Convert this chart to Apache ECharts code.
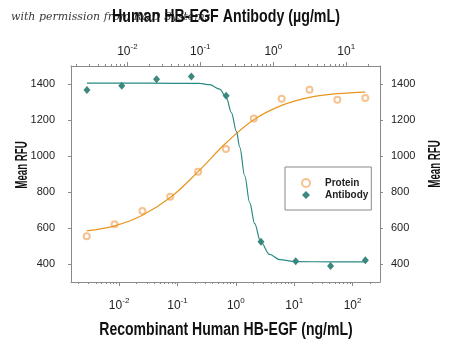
<!DOCTYPE html>
<html>
<head>
<meta charset="utf-8">
<script src="https://cdn.jsdelivr.net/npm/echarts@6/dist/echarts.min.js"></script>
<style>
  html, body { margin: 0; padding: 0; background: #ffffff; }
  #chart { width: 450px; height: 347px; }
</style>
</head>
<body>
<div id="chart"></div>
<script>
// Recombinant HB-EGF dose response (bottom axis, ng/mL)
const proteinConc = [0.00279, 0.00837, 0.0251, 0.0753, 0.226, 0.678, 2.03, 6.10, 18.3, 54.9, 165];
const proteinRfu  = [554, 621, 694, 773, 913, 1039, 1208, 1318, 1368, 1312, 1322];

// Fitted response curve for the protein
const proteinFitConc = [0.00279, 0.00837, 0.0251, 0.0753, 0.226, 0.678, 2.03, 6.10, 18.3, 54.9, 165];
const proteinFitRfu  = [584, 612, 671, 769, 913, 1072, 1201, 1281, 1326, 1346, 1355];

// Neutralizing antibody titration (top axis, µg/mL)
const antibodyConc = [0.00279, 0.00837, 0.0251, 0.0753, 0.226, 0.678, 2.03, 6.10, 18.3];
const antibodyRfu  = [1367, 1390, 1427, 1442, 1335, 523, 415, 389, 421];

// Fitted inhibition curve for the antibody
const antibodyFitConc = [0.00279, 0.0203, 0.0982, 0.1345, 0.1844, 0.228, 0.267, 0.313, 0.347, 0.406, 0.475, 0.556, 0.672, 0.891, 1.22, 2.02, 6.1, 18.8];
const antibodyFitRfu  = [1405, 1405, 1403, 1396, 1372, 1322, 1240, 1135, 1049, 890, 741, 624, 523, 453, 424, 413, 412, 412];

// Axis ticks and titles
const bottomDecades = [-2, -1, 0, 1, 2];
const topDecades = [-2, -1, 0, 1];
const rfuTicks = [400, 600, 800, 1000, 1200, 1400];
const bottomTitle = 'Recombinant Human HB-EGF (ng/mL)';
const topTitle = 'Human HB-EGF Antibody (\u00b5g/mL)';
const rfuTitle = 'Mean RFU';
const creditText = 'with permission from R&D Systems';

const bottomRange = [-2.824, 2.47];
const topRange = [-2.773, 1.463];

const FONT = "'Liberation Sans', Arial, sans-serif";
const AXIS_GRAY = '#8a8a8a';
const ORANGE_LINE = '#E8961E';
const ORANGE_MARK = '#F2B475';
const TEAL_LINE = '#2A8A83';
const TEAL_MARK = '#0B6A5E';

const log10 = Math.log10;

function minorTicks(range) {
  const out = [];
  for (let e = Math.floor(range[0]); e <= Math.ceil(range[1]); e++) {
    for (let k = 2; k <= 9; k++) {
      const v = e + log10(k);
      if (v >= range[0] && v <= range[1]) out.push(v);
    }
  }
  return out;
}

const powRich = {
  b: { fontFamily: FONT, fontSize: 12, color: '#222', lineHeight: 15, verticalAlign: 'bottom' },
  s: { fontFamily: FONT, fontSize: 8, color: '#222', lineHeight: 8, verticalAlign: 'top' }
};

function decadeAxis(position, range, exps, labelMargin) {
  return {
    type: 'value', position, min: range[0], max: range[1],
    axisLine: { show: true, onZero: false, lineStyle: { color: AXIS_GRAY, width: 1 } },
    axisTick: { show: true, customValues: exps, length: 4, lineStyle: { color: AXIS_GRAY } },
    axisLabel: {
      show: true, customValues: exps, margin: labelMargin,
      formatter: v => '{b|10}{s|' + Math.round(v) + '}',
      rich: powRich
    },
    splitLine: { show: false }
  };
}

function minorAxis(position, range) {
  return {
    type: 'value', position, min: range[0], max: range[1],
    axisLine: { show: false, onZero: false },
    axisTick: { show: true, customValues: minorTicks(range), length: 2, lineStyle: { color: AXIS_GRAY } },
    axisLabel: { show: false },
    splitLine: { show: false }
  };
}

function rfuAxis(position, margin) {
  return {
    type: 'value', position, min: 300, max: 1500,
    axisLine: { show: true, onZero: false, lineStyle: { color: AXIS_GRAY, width: 1 } },
    axisTick: { show: true, customValues: rfuTicks, length: 3, lineStyle: { color: AXIS_GRAY } },
    axisLabel: {
      show: true, customValues: rfuTicks, margin,
      formatter: v => String(v),
      fontFamily: FONT, fontSize: 11, color: '#222'
    },
    splitLine: { show: false }
  };
}

// Bold condensed title text, squeezed horizontally around its centre
function titleText(text, x, y, fontSize, squeeze, rotation) {
  return {
    type: 'text', x, y, rotation: rotation || 0, scaleX: squeeze, scaleY: 1, z: 10,
    style: {
      text, x: 0, y: 0, align: 'center', verticalAlign: 'middle',
      font: 'bold ' + fontSize + 'px ' + FONT, fill: '#111'
    }
  };
}

const chart = echarts.init(document.getElementById('chart'), null, { renderer: 'canvas' });

chart.setOption({
  animation: false,
  backgroundColor: '#ffffff',
  grid: { left: 71, top: 66, width: 309, height: 216 },
  xAxis: [
    decadeAxis('bottom', bottomRange, bottomDecades, 15),
    minorAxis('bottom', bottomRange),
    decadeAxis('top', topRange, topDecades, 8),
    minorAxis('top', topRange)
  ],
  yAxis: [
    rfuAxis('left', 16),
    rfuAxis('right', 11)
  ],
  legend: {
    orient: 'vertical',
    left: 285, top: 167,
    padding: [10, 3, 9, 16],
    itemGap: 0,
    itemWidth: 8, itemHeight: 8,
    borderColor: '#8a8a8a', borderWidth: 1,
    textStyle: { fontFamily: FONT, fontWeight: 'bold', fontSize: 10, color: '#222', lineHeight: 12, padding: [0, 0, 0, 10] },
    data: [
      { name: 'Protein', icon: 'emptyCircle' },
      { name: 'Antibody', icon: 'diamond' }
    ]
  },
  graphic: [
    {
      type: 'text', x: 11, y: 17, z: 1,
      style: { text: creditText, x: 0, y: 0, verticalAlign: 'middle', font: 'italic 11px "DejaVu Serif", serif', fill: '#3a3a3a' }
    },
    titleText(topTitle, 226, 17, 18, 0.79),
    titleText(bottomTitle, 226, 330, 18, 0.78),
    titleText(rfuTitle, 22, 165, 17, 0.57, Math.PI / 2),
    titleText(rfuTitle, 435, 164, 17, 0.57, Math.PI / 2)
  ],
  series: [
    {
      name: 'Protein fit', type: 'line', xAxisIndex: 0, yAxisIndex: 0,
      data: proteinFitConc.map((c, i) => [log10(c), proteinFitRfu[i]]),
      smooth: 0.4, showSymbol: false, silent: true,
      lineStyle: { color: ORANGE_LINE, width: 1.2 }
    },
    {
      name: 'Antibody fit', type: 'line', xAxisIndex: 2, yAxisIndex: 0,
      data: antibodyFitConc.map((c, i) => [log10(c), antibodyFitRfu[i]]),
      smooth: 0.35, smoothMonotone: 'x', showSymbol: false, silent: true,
      lineStyle: { color: TEAL_LINE, width: 1.2 }
    },
    {
      name: 'Protein', type: 'scatter', xAxisIndex: 0, yAxisIndex: 0,
      data: proteinConc.map((c, i) => [log10(c), proteinRfu[i]]),
      symbol: 'emptyCircle', symbolSize: 6,
      itemStyle: { color: ORANGE_MARK, borderColor: ORANGE_MARK, borderWidth: 1 }
    },
    {
      name: 'Antibody', type: 'scatter', xAxisIndex: 2, yAxisIndex: 0,
      data: antibodyConc.map((c, i) => [log10(c), antibodyRfu[i]]),
      symbol: 'diamond', symbolSize: [7, 8],
      itemStyle: { color: TEAL_MARK }
    }
  ]
});
</script>
</body>
</html>
